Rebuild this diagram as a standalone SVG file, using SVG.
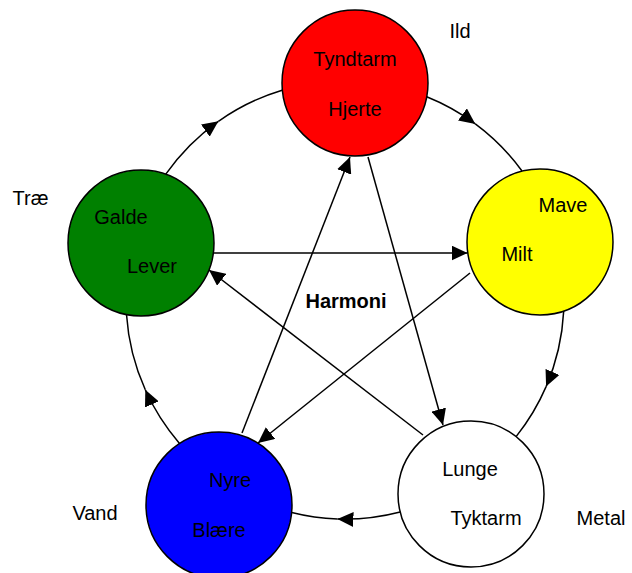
<svg xmlns="http://www.w3.org/2000/svg" width="632" height="573" viewBox="0 0 632 573">
<style>
  .node { stroke: #000; stroke-width: 1.5; }
  .lbl { font-family: "Liberation Sans", Arial, sans-serif; font-size: 20px; fill: #000; text-anchor: middle; }
  .bold { font-weight: bold; }
  .edge { fill: none; stroke: #000; stroke-width: 1.5; }
</style>
<defs>
  <marker id="arr" markerUnits="userSpaceOnUse" markerWidth="16" markerHeight="15" viewBox="0 0 16 15" refX="16" refY="7.5" orient="auto">
    <path d="M0,0 L16,7.5 L0,15 z" fill="#000"/>
  </marker>
</defs>
<rect width="632" height="573" fill="#fff"/>

<g id="node-ild">
  <circle class="node" cx="355" cy="83" r="73" fill="#FF0000"/>
  <text class="lbl" x="355" y="66">Tyndtarm</text>
  <text class="lbl" x="355" y="116">Hjerte</text>
</g>
<g id="node-jord">
  <circle class="node" cx="540" cy="242" r="73" fill="#FFFF00"/>
  <text class="lbl" x="563" y="212">Mave</text>
  <text class="lbl" x="517" y="261">Milt</text>
</g>
<g id="node-metal">
  <circle class="node" cx="471" cy="494" r="73" fill="#FFFFFF"/>
  <text class="lbl" x="470" y="476">Lunge</text>
  <text class="lbl" x="486" y="525">Tyktarm</text>
</g>
<g id="node-vand">
  <circle class="node" cx="219" cy="505" r="73" fill="#0000FF"/>
  <text class="lbl" x="230" y="487">Nyre</text>
  <text class="lbl" x="219" y="537">Blære</text>
</g>
<g id="node-trae">
  <circle class="node" cx="141" cy="243" r="73" fill="#008000"/>
  <text class="lbl" x="121" y="224">Galde</text>
  <text class="lbl" x="152" y="273">Lever</text>
</g>

<g id="labels">
  <text class="lbl" x="460" y="38">Ild</text>
  <text class="lbl" x="601" y="525">Metal</text>
  <text class="lbl" x="95" y="520">Vand</text>
  <text class="lbl" x="30.5" y="205">Træ</text>
  <text class="lbl bold" x="346" y="308">Harmoni</text>
</g>

<g id="connectors">
  <!-- cycle arcs -->
  <path class="edge" d="M165.6,174.4 A219,219 0 0 1 218.4,121.3" marker-end="url(#arr)"/>
  <path class="edge" d="M218.4,121.3 A219,219 0 0 1 282.1,90.2"/>
  <path class="edge" d="M426.7,96.8 A219,219 0 0 1 475.3,123.9" marker-end="url(#arr)"/>
  <path class="edge" d="M475.3,123.9 A219,219 0 0 1 522.0,171.0"/>
  <path class="edge" d="M563.7,311.1 A219,219 0 0 1 546.1,386.6" marker-end="url(#arr)"/>
  <path class="edge" d="M546.1,386.6 A219,219 0 0 1 516.1,436.6"/>
  <path class="edge" d="M400.2,511.9 A219,219 0 0 1 337.4,518.9" marker-end="url(#arr)"/>
  <path class="edge" d="M337.4,518.9 A219,219 0 0 1 291.7,512.4"/>
  <path class="edge" d="M179.5,443.4 A219,219 0 0 1 145.3,389.8" marker-end="url(#arr)"/>
  <path class="edge" d="M145.3,389.8 A219,219 0 0 1 126.5,314.5"/>
  <!-- star lines -->
  <path class="edge" d="M213.3,253 L467.5,253" marker-end="url(#arr)"/>
  <path class="edge" d="M470,273 L258,443" marker-end="url(#arr)"/>
  <path class="edge" d="M242,433 L350,157" marker-end="url(#arr)"/>
  <path class="edge" d="M368,157 L443,425" marker-end="url(#arr)"/>
  <path class="edge" d="M423,435 L209,270" marker-end="url(#arr)"/>
</g>
</svg>
